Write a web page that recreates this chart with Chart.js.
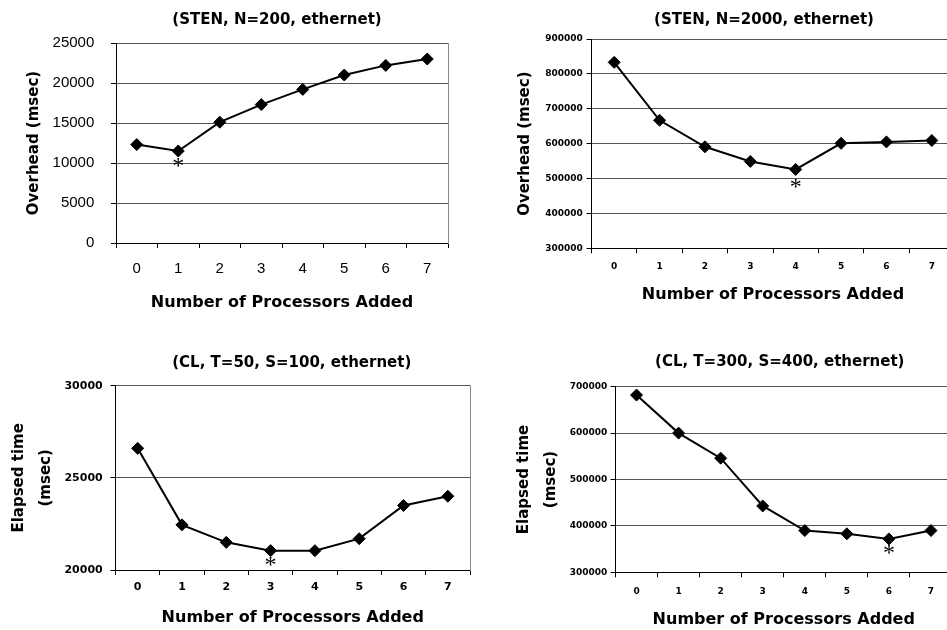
<!DOCTYPE html>
<html>
<head>
<meta charset="utf-8">
<script src="https://cdn.jsdelivr.net/npm/chart.js@4.4.1/dist/chart.umd.min.js"></script>
<style>
  html, body { margin: 0; padding: 0; background: #fff; overflow: hidden; }
  #sheet { position: relative; width: 947px; height: 630px; overflow: hidden; background: #fff; }
  #sheet canvas { position: absolute; }
</style>
</head>
<body>
<div id="sheet">
  <canvas id="stenSmall"></canvas>
  <canvas id="stenLarge"></canvas>
  <canvas id="clSmall"></canvas>
  <canvas id="clLarge"></canvas>
</div>
<script>
// Categories shared by every panel
const processorsAdded = ['0', '1', '2', '3', '4', '5', '6', '7'];

// Overhead of STEN with N=200 over ethernet (msec)
const stenN200Overhead = [12300, 11500, 15100, 17300, 19200, 21000, 22200, 23000];
// Overhead of STEN with N=2000 over ethernet (msec)
const stenN2000Overhead = [833000, 667000, 591000, 549000, 526000, 601000, 605000, 609000];
// Elapsed time of CL with T=50, S=100 over ethernet (msec)
const clT50S100Elapsed = [26600, 22450, 21500, 21050, 21050, 21700, 23500, 24000];
// Elapsed time of CL with T=300, S=400 over ethernet (msec)
const clT300S400Elapsed = [682000, 600000, 546000, 443000, 390000, 383000, 372000, 390000];

// Index of the configuration marked with an asterisk in each panel
const bestIndexStenN200 = 1;
const bestIndexStenN2000 = 4;
const bestIndexClT50 = 3;
const bestIndexClT300 = 6;

// Y axis ranges: [min, max, step]
const rangeStenN200 = [0, 25000, 5000];
const rangeStenN2000 = [300000, 900000, 100000];
const rangeClT50 = [20000, 30000, 5000];
const rangeClT300 = [300000, 700000, 100000];

const xAxisTitle = 'Number of Processors Added';

// Heading above the plot and asterisk under the chosen point
const panelDecor = {
  id: 'panelDecor',
  afterDraw(chart, args, opts) {
    const { ctx, chartArea } = chart;
    ctx.save();
    ctx.fillStyle = '#000';
    ctx.font = 'bold 15px "DejaVu Sans"';
    ctx.textAlign = 'center';
    ctx.textBaseline = 'middle';
    ctx.fillText(opts.heading, (chartArea.left + chartArea.right) / 2 + opts.headingShift, chartArea.top - opts.headingGap);

    const pt = chart.getDatasetMeta(0).data[opts.bestIndex];
    if (pt) {
      ctx.font = '24px "Liberation Serif"';
      ctx.textBaseline = 'alphabetic';
      const m = ctx.measureText('*');
      const cy = pt.y + opts.starDrop;
      ctx.fillText('*', pt.x, cy + (m.actualBoundingBoxAscent - m.actualBoundingBoxDescent) / 2);
    }
    ctx.restore();
  }
};

function buildPanel(id, spec) {
  const cv = document.getElementById(id);
  cv.width = spec.box.w;
  cv.height = spec.box.h;
  cv.style.left = spec.box.x + 'px';
  cv.style.top = spec.box.y + 'px';
  cv.style.width = spec.box.w + 'px';
  cv.style.height = spec.box.h + 'px';

  const [yMin, yMax, yStep] = spec.range;

  return new Chart(cv, {
    type: 'line',
    data: {
      labels: processorsAdded,
      datasets: [{
        data: spec.values,
        borderColor: '#000',
        borderWidth: 2,
        tension: 0,
        fill: false,
        pointStyle: 'rectRot',
        pointRadius: 6,
        pointBorderWidth: 1,
        pointBackgroundColor: '#000',
        pointBorderColor: '#000'
      }]
    },
    options: {
      responsive: false,
      animation: false,
      devicePixelRatio: 1,
      layout: {
        padding: {
          top: spec.area.top - spec.box.y,
          right: spec.box.x + spec.box.w - spec.area.right,
          bottom: 0,
          left: 0
        }
      },
      plugins: {
        legend: { display: false },
        tooltip: { enabled: false },
        title: { display: false },
        panelDecor: {
          heading: spec.heading,
          headingShift: spec.headingShift,
          headingGap: spec.headingGap,
          bestIndex: spec.bestIndex,
          starDrop: spec.starDrop
        }
      },
      scales: {
        x: {
          type: 'category',
          offset: true,
          grid: { offset: true, drawOnChartArea: false, drawTicks: true, tickLength: 5, tickColor: '#000', tickWidth: 1 },
          border: { display: true, color: '#000', width: 1 },
          ticks: {
            color: '#000',
            font: spec.tickFont,
            padding: spec.xTickPad,
            autoSkip: false,
            maxRotation: 0
          },
          title: {
            display: true,
            text: xAxisTitle,
            color: '#000',
            font: { family: 'DejaVu Sans', weight: 'bold', size: 16, lineHeight: 1.2 },
            padding: { top: 0, bottom: spec.xTitlePad }
          },
          afterFit: s => { s.height = spec.box.y + spec.box.h - spec.area.bottom; }
        },
        y: {
          min: yMin,
          max: yMax,
          ticks: {
            stepSize: yStep,
            color: '#000',
            font: spec.tickFont,
            padding: spec.yTickPad,
            callback: v => String(v)
          },
          grid: {
            color: c => (c.tick && c.tick.value === yMin) ? '#000' : '#555555',
            lineWidth: 1,
            tickColor: '#000',
            tickLength: 5
          },
          border: { display: true, color: '#000', width: 1 },
          title: {
            display: true,
            text: spec.yTitle,
            color: '#000',
            font: { family: 'DejaVu Sans', weight: 'bold', size: 15, lineHeight: spec.yTitleLineHeight },
            padding: { top: spec.yTitlePad, bottom: 0 }
          },
          afterFit: s => { s.width = spec.area.left - spec.box.x; }
        },
        yEdge: {
          position: 'right',
          min: yMin,
          max: yMax,
          ticks: { display: false },
          grid: { display: false },
          border: { display: true, color: '#8a8a8a', width: 1, dash: [2, 1] },
          afterFit: s => { s.width = 0; }
        }
      }
    },
    plugins: [panelDecor]
  });
}

const smallBold9 = { family: 'DejaVu Sans', weight: 'bold', size: 9, lineHeight: 1.2 };

buildPanel('stenSmall', {
  box: { x: 0, y: 0, w: 480, h: 315 },
  area: { left: 116, right: 448, top: 43, bottom: 243 },
  values: stenN200Overhead,
  range: rangeStenN200,
  tickFont: { family: 'Liberation Sans', weight: 'normal', size: 15, lineHeight: 1.2 },
  yTickPad: 16.7,
  xTickPad: 11.5,
  yTitle: 'Overhead (msec)',
  yTitleLineHeight: 1.2,
  yTitlePad: 25.3,
  xTitlePad: 2.4,
  heading: '(STEN, N=200, ethernet)',
  headingShift: -5,
  headingGap: 23,
  bestIndex: bestIndexStenN200,
  starDrop: 11.5
});

buildPanel('stenLarge', {
  box: { x: 480, y: 0, w: 490, h: 315 },
  area: { left: 591.5, right: 954.5, top: 39, bottom: 248.3 },
  values: stenN2000Overhead,
  range: rangeStenN2000,
  tickFont: smallBold9,
  yTickPad: 3.8,
  xTickPad: 8,
  yTitle: 'Overhead (msec)',
  yTitleLineHeight: 1.2,
  yTitlePad: 36,
  xTitlePad: 10.4,
  heading: '(STEN, N=2000, ethernet)',
  headingShift: -9,
  headingGap: 19,
  bestIndex: bestIndexStenN2000,
  starDrop: 14
});

buildPanel('clSmall', {
  box: { x: 0, y: 315, w: 480, h: 315 },
  area: { left: 115.5, right: 470, top: 385.7, bottom: 570 },
  values: clT50S100Elapsed,
  range: rangeClT50,
  tickFont: { family: 'DejaVu Sans', weight: 'bold', size: 11, lineHeight: 1.2 },
  yTickPad: 7.8,
  xTickPad: 5.9,
  yTitle: ['Elapsed time', '(msec)'],
  yTitleLineHeight: 1.8,
  yTitlePad: 5.8,
  xTitlePad: 2.6,
  heading: '(CL, T=50, S=100, ethernet)',
  headingShift: -1,
  headingGap: 22.7,
  bestIndex: bestIndexClT50,
  starDrop: 11
});

buildPanel('clLarge', {
  box: { x: 480, y: 315, w: 490, h: 315 },
  area: { left: 615.5, right: 952, top: 386.7, bottom: 572.3 },
  values: clT300S400Elapsed,
  range: rangeClT300,
  tickFont: smallBold9,
  yTickPad: 3.2,
  xTickPad: 9,
  yTitle: ['Elapsed time', '(msec)'],
  yTitleLineHeight: 1.8,
  yTitlePad: 30.2,
  xTitlePad: 0.4,
  heading: '(CL, T=300, S=400, ethernet)',
  headingShift: -4,
  headingGap: 25,
  bestIndex: bestIndexClT300,
  starDrop: 11
});
</script>
</body>
</html>
